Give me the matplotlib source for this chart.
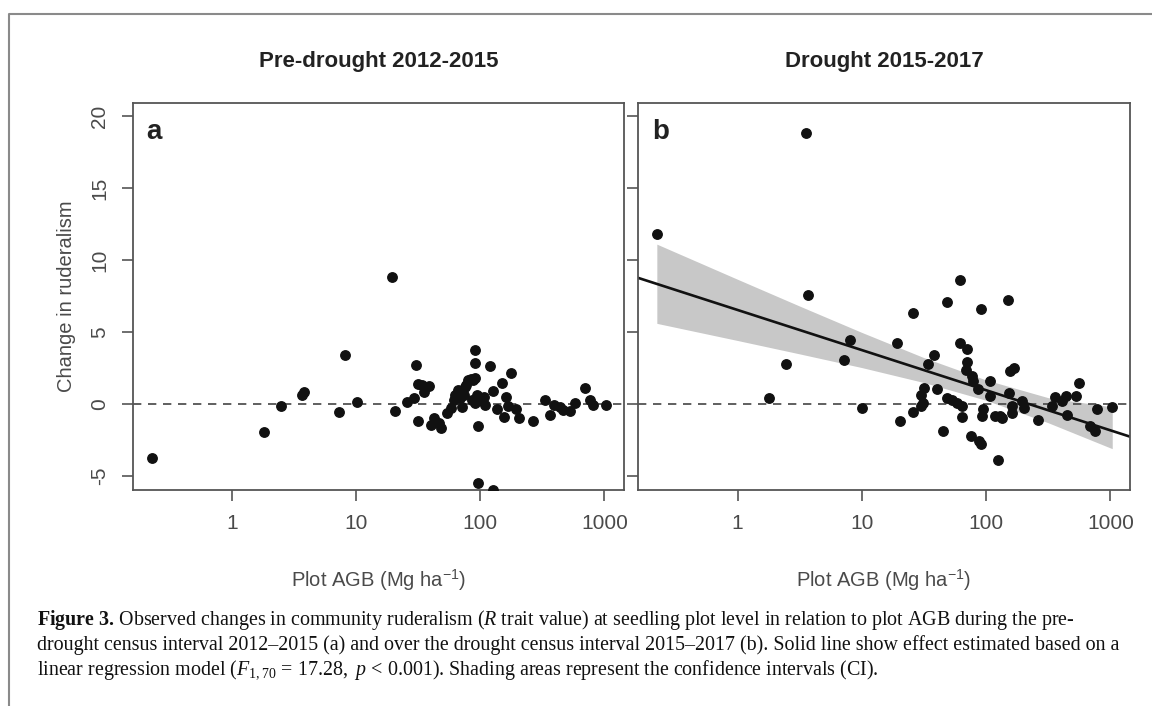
import numpy as np
import matplotlib
matplotlib.use('Agg')
import matplotlib.pyplot as plt
from matplotlib.lines import Line2D

plt.rcParams['font.family'] = ['Liberation Sans', 'DejaVu Sans']
plt.rcParams['mathtext.fontset'] = 'custom'
plt.rcParams['mathtext.rm'] = 'Liberation Serif'
plt.rcParams['mathtext.it'] = 'Liberation Serif:italic'
plt.rcParams['mathtext.bf'] = 'Liberation Serif:bold'
plt.rcParams['mathtext.sf'] = 'Liberation Sans'

# Pre-drought 2012-2015 (panel a)
pre_agb = [0.225, 1.81, 2.48, 3.65, 3.8, 7.2, 8.15, 10.1, 19.4, 20.5, 25.6, 29, 30.3, 31.2,
           31.6, 33.8, 34.9, 38.3, 40, 42, 46.1, 48.5, 53.8, 58.4, 60.9, 62.9, 65.6, 69,
           71.2, 73.4, 75, 77.1, 79.1, 84.1, 85.7, 88, 90, 90, 91.2, 91.2, 94, 95.8, 95.8,
           100, 106, 110, 120.5, 126, 126, 136, 150, 154, 162, 167, 175, 195, 204, 266,
           334, 367, 390, 442, 464, 525, 584, 703, 771, 805, 1031]
pre_change = [-3.77, -1.97, -0.14, 0.62, 0.85, -0.58, 3.4, 0.16, 8.84, -0.46, 0.16, 0.4,
              2.69, -1.16, 1.39, 1.32, 0.86, 1.25, -1.46, -1.0, -1.34, -1.69, -0.65, -0.3,
              0.28, 0.63, 0.97, 0.39, -0.19, 0.63, 1.18, 1.32, 1.67, 1.71, 0.28, 1.67, 2.87,
              3.75, 1.78, 0.05, 0.63, -1.5, -5.5, 0.28, 0.47, -0.07, 2.66, 0.92, -5.97,
              -0.37, 1.44, -0.88, 0.51, -0.14, 2.17, -0.35, -1.0, -1.16, 0.28, -0.76, -0.07,
              -0.19, -0.42, -0.49, 0.05, 1.13, 0.28, -0.07, -0.07]

# Drought 2015-2017 (panel b)
dr_agb = [0.224, 1.79, 2.47, 3.57, 3.69, 7.17, 8.06, 10, 19.3, 20.3, 25.8, 25.8, 29.9, 29.9,
          30.8, 31.8, 34.4, 37.8, 40.3, 44.6, 48.2, 48.2, 53.1, 58.5, 61.4, 61.4, 64.2, 64.2,
          68.5, 70.7, 70.7, 75.4, 76.8, 77.8, 85.6, 88.5, 90.2, 91, 93.3, 94.3, 107, 107,
          118, 124, 130, 134, 150, 152, 157, 162, 162, 168, 196, 203, 262, 338, 361, 410,
          437, 451, 530, 564, 684, 753, 777, 1036]
dr_change = [11.77, 0.43, 2.81, 18.84, 7.6, 3.09, 4.42, -0.31, 4.25, -1.19, 6.33, -0.57,
             0.66, -0.15, 0.08, 1.13, 2.81, 3.39, 1.01, -1.84, 7.07, 0.43, 0.31, 0.08, 8.6,
             4.25, -0.15, -0.92, 2.35, 3.85, 2.93, -2.24, 1.93, 1.58, 1.01, -2.58, 6.58,
             -2.75, -0.85, -0.38, 1.63, 0.54, -0.8, -3.92, -0.85, -0.96, 7.2, 0.78, 2.28,
             -0.15, -0.61, 2.51, 0.19, -0.26, -1.08, -0.15, 0.5, 0.19, 0.59, -0.73, 0.54,
             1.47, -1.54, -1.89, -0.38, -0.2]

# regression fit (change = a + b*log10(AGB)) and its confidence band
fit_intercept = 6.53
fit_slope = -2.785
band_agb = [0.224, 1, 3.16, 10, 31.6, 100, 316, 1036]
band_hi = [11.1, 8.66, 6.8, 4.97, 3.22, 1.67, 0.44, -0.2]
band_lo = [5.6, 4.41, 3.48, 2.53, 1.49, 0.26, -1.3, -3.1]

titles = ['Pre-drought 2012-2015', 'Drought 2015-2017']
panel_tags = ['a', 'b']
xticks = [1, 10, 100, 1000]
yticks = [-5, 0, 5, 10, 15, 20]

W, H = 1152, 706
fig = plt.figure(figsize=(W / 100, H / 100), dpi=100)
fig.patch.set_facecolor('white')

axes_px = [(133, 624), (638, 1130)]
top_px, bot_px = 103, 490
xlim = (0.158, 1440)
ylim = (-5.97, 20.9)
axis_grey = '#555555'
text_grey = '#4a4a4a'

data = [(pre_agb, pre_change), (dr_agb, dr_change)]
for i, (l, r) in enumerate(axes_px):
    ax = fig.add_axes([l / W, 1 - bot_px / H, (r - l) / W, (bot_px - top_px) / H])
    ax.set_xscale('log')
    ax.set_xlim(*xlim)
    ax.set_ylim(*ylim)
    for s in ax.spines.values():
        s.set_color(axis_grey)
        s.set_linewidth(1.3)
    ax.set_xticks(xticks)
    ax.set_xticklabels([str(t) for t in xticks])
    ax.xaxis.set_minor_locator(matplotlib.ticker.NullLocator())
    ax.set_yticks(yticks)
    ax.tick_params(axis='both', direction='out', length=8, width=1.2, color=axis_grey,
                   labelsize=15, labelcolor=text_grey, pad=9)
    if i == 0:
        ax.set_yticklabels([str(t) for t in yticks], rotation=90, va='center')
        ax.set_ylabel('Change in ruderalism', fontsize=14.5, color=text_grey, labelpad=10)
    else:
        ax.set_yticklabels([])
    ax.set_xlabel(r'Plot AGB (Mg ha$^{\mathsf{-1}}$)', fontsize=14.5, color=text_grey,
                  labelpad=25)
    ax.axhline(0, color='#444444', lw=1.2, ls=(0, (5, 4)), zorder=1)

    if i == 1:
        ax.fill_between(band_agb, band_lo, band_hi, color='#c8c8c8', lw=0, zorder=0.5)
        xs = np.array(xlim)
        ax.plot(xs, fit_intercept + fit_slope * np.log10(xs), color='#111111', lw=1.9,
                zorder=2)

    agb, chg = data[i]
    ax.plot(agb, chg, 'o', color='#111111', ms=6.8, mec='#111111', zorder=3)

    ax.text(0.028, 0.925, panel_tags[i], transform=ax.transAxes, fontsize=20,
            fontweight='bold', color='#222222', ha='left', va='center')
    fig.text(((l + r) / 2) / W, 1 - 62 / H, titles[i], fontsize=16, fontweight='bold',
             color='#222222', ha='center', va='center')

# outer frame of the figure panel
fig.add_artist(Line2D([9 / W, 9 / W, 1], [0, 1 - 14 / H, 1 - 14 / H],
                      transform=fig.transFigure, color='#8a8a8a', lw=1.5))

cap_lines = [
    r'$\mathbf{Figure\ 3.}\,$Observed changes in community ruderalism ($\mathit{R}$ trait value) '
    r'at seedling plot level in relation to plot AGB during the pre-',
    'drought census interval 2012\u20132015 (a) and over the drought census interval '
    '2015\u20132017 (b). Solid line show effect estimated based on a',
    r'linear regression model ($F_{1,70}\,=\,17.28,\ p\,<\,0.001$). Shading areas represent '
    'the confidence intervals (CI).',
]
for k, line in enumerate(cap_lines):
    fig.text(37 / W, 1 - (620 + k * 25) / H, line, fontsize=14.4, family='Liberation Serif',
             color='#111111', ha='left', va='center')

fig.savefig('out.png', dpi=100, facecolor='white')
